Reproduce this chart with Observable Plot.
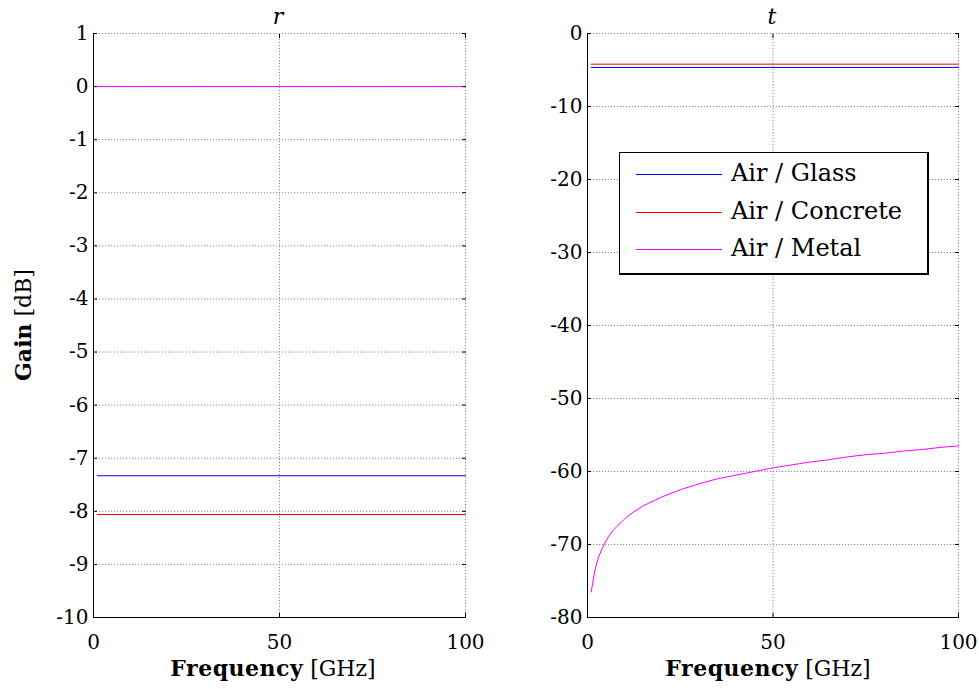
<!DOCTYPE html>
<html>
<head>
<meta charset="utf-8">
<script src="https://cdn.jsdelivr.net/npm/d3@7"></script>
<script src="https://cdn.jsdelivr.net/npm/@observablehq/plot@0.6"></script>
<style>
  html, body { margin: 0; padding: 0; background: #fff; }
  #wrap { position: relative; width: 979px; height: 689px; font-family: "DejaVu Serif", serif; color: #000; }
  .panel { position: absolute; top: 0; }
  .lbl { position: absolute; white-space: nowrap; font-size: 22px; }
  #legend { position: absolute; box-sizing: border-box; border: 1px solid #000; border-right-width: 2px; border-bottom-width: 2px; background: #fff; }
  .leg-line { position: absolute; height: 1px; }
  .leg-text { position: absolute; font-size: 24px; line-height: 24px; white-space: nowrap; }
</style>
</head>
<body>
<div id="wrap"></div>
<script>
// ---- data ----
const seriesNames = ["Air / Glass", "Air / Concrete", "Air / Metal"];
const seriesColors = ["#0000ff", "#ff0000", "#ff00ff"];
const freqSpan = [1, 100];                 // GHz, constant lines
const rValues = [-7.33, -8.06, 0];          // reflection gain [dB]
const tValues = [-4.65, -4.2];              // transmission gain [dB] (glass, concrete)
const metalFreq = [1, 2, 3, 4, 5, 6, 7, 8, 10, 12, 15, 20, 25, 30, 35, 40, 45, 50, 55, 60, 65, 70, 75, 80, 85, 90, 95, 100];
const metalT    = [-76.5, -73.5, -71.7, -70.5, -69.5, -68.7, -68.0, -67.5, -66.5, -65.7, -64.7, -63.5, -62.5, -61.7, -61.0, -60.5, -60.0, -59.5, -59.1, -58.7, -58.4, -58.0, -57.7, -57.5, -57.2, -57.0, -56.7, -56.5];
const xTicks = [0, 50, 100];
const rTicks = [1, 0, -1, -2, -3, -4, -5, -6, -7, -8, -9, -10];
const tTicks = [0, -10, -20, -30, -40, -50, -60, -70, -80];

// ---- tables ----
const rLines = [];
rValues.forEach((v, i) => freqSpan.forEach(f => rLines.push({f, g: v, s: seriesNames[i]})));
const tLines = [];
tValues.forEach((v, i) => freqSpan.forEach(f => tLines.push({f, g: v, s: seriesNames[i]})));
metalFreq.forEach((f, i) => tLines.push({f, g: metalT[i], s: seriesNames[2]}));

const FONT = "DejaVu Serif";

function panel(data, yDomain, yTicks, opts) {
  const gridStyle = {stroke: "#8a8a8a", strokeOpacity: 1, strokeDasharray: "1.2,1.8", strokeWidth: 1};
  return Plot.plot({
    width: opts.width, height: 689,
    marginLeft: opts.ml, marginRight: opts.mr, marginTop: 33, marginBottom: 72,
    style: {fontFamily: FONT, fontSize: "20px", background: "transparent", color: "#000", overflow: "visible"},
    x: {domain: [0, 100]},
    y: {domain: yDomain},
    color: {domain: seriesNames, range: seriesColors},
    marks: [
      Plot.gridX(xTicks, gridStyle),
      Plot.gridY(yTicks, gridStyle),
      Plot.line(data, {x: "f", y: "g", z: "s", stroke: "s", strokeWidth: 1}),
      Plot.ruleX([0], {stroke: "#000", strokeWidth: 1}),
      Plot.ruleY([yDomain[0]], {stroke: "#000", strokeWidth: 1}),
      Plot.axisY(yTicks, {anchor: "left", tickSize: -4, tickPadding: 9, tickFormat: d => String(d), label: null, fontSize: 20}),
      Plot.axisY(yTicks, {anchor: "right", tickSize: -4, tickFormat: () => "", label: null}),
      Plot.axisX(xTicks, {anchor: "bottom", tickSize: -4, tickPadding: 21, tickFormat: d => String(d), label: null, fontSize: 20}),
      Plot.axisX(xTicks, {anchor: "top", tickSize: -4, tickFormat: () => "", label: null})
    ]
  });
}

const wrap = document.getElementById("wrap");

const left = panel(rLines, [-10, 1], rTicks, {width: 490, ml: 93, mr: 25});
left.classList.add("panel"); left.style.left = "0px";
wrap.appendChild(left);

const right = panel(tLines, [-80, 0], tTicks, {width: 489, ml: 97, mr: 21});
right.classList.add("panel"); right.style.left = "490px";
wrap.appendChild(right);

function addLabel(html, x, y, extra) {
  const d = document.createElement("div");
  d.className = "lbl";
  d.innerHTML = html;
  d.style.left = x + "px"; d.style.top = y + "px";
  d.style.transform = extra || "translate(-50%, -50%)";
  wrap.appendChild(d);
}
addLabel('<i>r</i>', 278, 16);
addLabel('<i>t</i>', 772, 16);
addLabel('<b style="letter-spacing:0.5px">Frequency</b> [GHz]', 273, 668);
addLabel('<b style="letter-spacing:0.5px">Frequency</b> [GHz]', 768, 668);
addLabel('<b>Gain</b> [dB]', 23, 325, "translate(-50%, -50%) rotate(-90deg)");

// legend
const leg = document.createElement("div");
leg.id = "legend";
leg.style.left = "619px"; leg.style.top = "152px"; leg.style.width = "310px"; leg.style.height = "123px";
wrap.appendChild(leg);
const rowY = [21, 59, 96];
seriesNames.forEach((name, i) => {
  const ln = document.createElement("div");
  ln.className = "leg-line";
  ln.style.left = "16px"; ln.style.width = "86px"; ln.style.top = rowY[i] + "px";
  ln.style.background = seriesColors[i];
  const tx = document.createElement("div");
  tx.className = "leg-text";
  tx.style.left = "111px"; tx.style.top = (rowY[i] - 13) + "px";
  tx.textContent = name;
  leg.appendChild(ln); leg.appendChild(tx);
});
</script>
</body>
</html>
